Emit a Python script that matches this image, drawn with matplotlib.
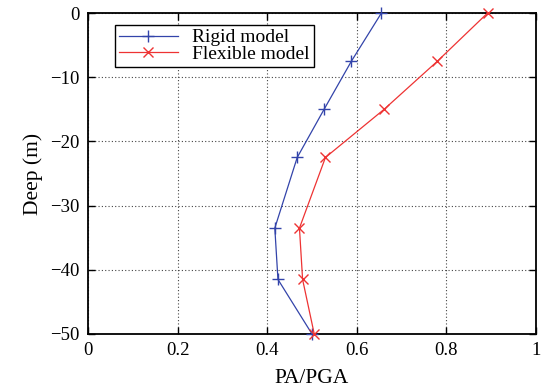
import matplotlib
matplotlib.use("Agg")
import matplotlib.pyplot as plt

# PA/PGA ratio against depth for the two wall models
depth = [0, -7.5, -15, -22.5, -33.5, -41.5, -50]
rigid = [0.655, 0.588, 0.527, 0.467, 0.417, 0.424, 0.500]
flexible = [0.892, 0.780, 0.661, 0.530, 0.472, 0.479, 0.505]

plt.rcParams['font.family'] = ['Liberation Serif', 'DejaVu Serif']
plt.rcParams['mathtext.fontset'] = 'stix'

fig = plt.figure(figsize=(5.42, 3.91), dpi=100)
ax = fig.add_axes([88 / 542, 1 - 334 / 391, 448 / 542, 321 / 391])

ax.plot(rigid, depth, color='#3344aa', marker='+', markersize=8, lw=0.9,
        mew=1.0, label='Rigid model', clip_on=False, zorder=3)
ax.plot(flexible, depth, color='#ee3333', marker='x', markersize=7, lw=0.9,
        mew=1.0, label='Flexible model', clip_on=False, zorder=3)

ax.set_xlim(0, 1)
ax.set_ylim(-50, 0)
ax.set_xticks([0, 0.2, 0.4, 0.6, 0.8, 1])
ax.set_xticklabels(['0', '0.2', '0.4', '0.6', '0.8', '1'])
ax.set_yticks([-50, -40, -30, -20, -10, 0])

ax.grid(True, color='#444444', linestyle=(0, (1, 2)), linewidth=0.8)
ax.tick_params(direction='in', top=True, right=True, length=5, width=1,
               labelsize=13.5, pad=6)
for s in ax.spines.values():
    s.set_linewidth(1.3)

ax.set_xlabel('PA/PGA', fontsize=15.5, labelpad=7)
ax.set_ylabel('Deep (m)', fontsize=15.5, labelpad=5)

leg = ax.legend(loc='upper left', bbox_to_anchor=(0.061, 0.963), fontsize=14,
                frameon=True, fancybox=False, borderpad=0.2, labelspacing=-0.05,
                handlelength=3.0, handletextpad=0.75, borderaxespad=0)
leg.get_frame().set_edgecolor('black')
leg.get_frame().set_linewidth(1.0)
leg.get_frame().set_alpha(1)

fig.savefig('out.png', dpi=100)
